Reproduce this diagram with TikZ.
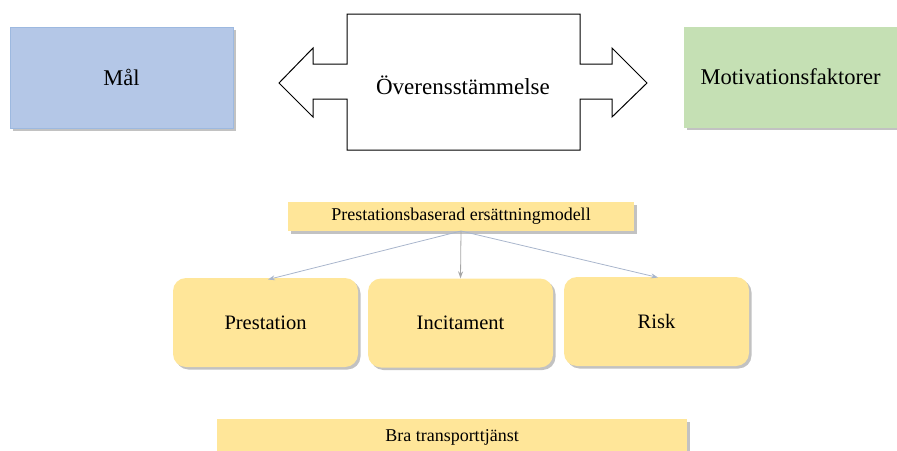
\documentclass[tikz,border=0pt]{standalone}
\usepackage{fontspec}
\setmainfont{Liberation Serif}
\usetikzlibrary{shadows,arrows.meta}
\definecolor{blueF}{HTML}{B4C7E7}
\definecolor{blueD}{HTML}{9DB9E0}
\definecolor{greenF}{HTML}{C5E0B4}
\definecolor{yellowF}{HTML}{FFE699}
\definecolor{arrowB}{HTML}{A9B6CC}
\definecolor{arrowG}{HTML}{A6A6A6}
\tikzset{
  shd/.style={drop shadow={shadow xshift=2.5pt,shadow yshift=-2.5pt,opacity=0.4,fill=black!60}},
  topbox/.style={shd,minimum width=#1,minimum height=101pt,inner sep=0pt,font=\fontsize{22.5}{26}\selectfont},
  rbox/.style={shd,fill=yellowF,rounded corners=13pt,minimum width=185pt,minimum height=89pt,inner sep=0pt,font=\fontsize{20.5}{24}\selectfont},
  flat/.style={shd,fill=yellowF,inner sep=0pt,font=\fontsize{18}{21}\selectfont},
  conn/.style={draw=arrowB,line width=0.8pt,-{Stealth[length=7pt,width=5pt]}},
}
\begin{document}
\begin{tikzpicture}[x=1pt,y=-1pt]
\useasboundingbox (0,0) rectangle (897,450);
% top row
\node[topbox=223pt,fill=blueF,draw=blueD,line width=0.4pt] (mal) at (121.5,77.5) {Mål};
\node[topbox=213pt,fill=greenF] (motiv) at (790.5,77) {Motivationsfaktorer};
% double arrow
\draw[line width=1pt,fill=white] (347,14) -- (580,14) -- (580,64) -- (612,64) -- (612,48) -- (647,83)
  -- (612,117) -- (612,99) -- (580,99) -- (580,150) -- (347,150) -- (347,99) -- (313,99)
  -- (313,117) -- (279,83) -- (313,48) -- (313,64) -- (347,64) -- cycle;
\node[font=\fontsize{23}{27}\selectfont] (over) at (463,85) {Överensstämmelse};
% model
\node[flat,minimum width=346pt,minimum height=29pt] (model) at (461,216.5) {Prestationsbaserad ersättningmodell};
\node[rbox] (prest) at (265.5,322.5) {Prestation};
\node[rbox] (incit) at (460.5,323) {Incitament};
\node[rbox] (risk) at (656.5,321.5) {Risk};
\coordinate (src) at (461,231);
\draw[conn] (src) -- (268,279.5);
\draw[conn,draw=arrowG] (src) -- (incit.north);
\draw[conn] (src) -- (658,277.5);
% bottom
\node[flat,minimum width=470pt,minimum height=38pt,anchor=north] (bra) at (452,419) {};
\node[font=\fontsize{18}{21}\selectfont] (bratext) at (452,437) {Bra transporttjänst};
\end{tikzpicture}
\end{document}
